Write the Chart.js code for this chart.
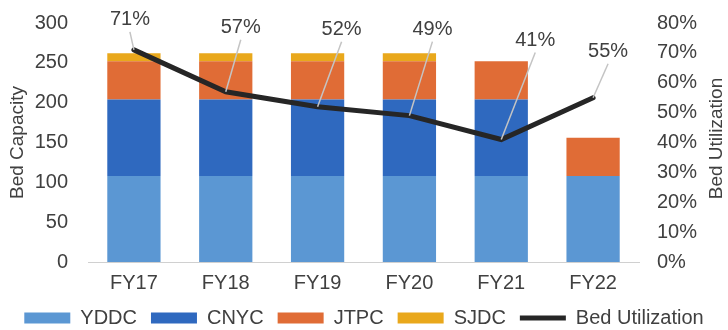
<!DOCTYPE html>
<html>
<head>
<meta charset="utf-8">
<script src="https://cdn.jsdelivr.net/npm/chart.js@4/dist/chart.umd.min.js"></script>
<style>
  body { margin: 0; background: #fff; }
  #wrap { width: 728px; height: 330px; }
</style>
</head>
<body>
<div id="wrap"><canvas id="bedChart" width="728" height="330"></canvas></div>
<script>
// Kategorien und Werte
const years = ["FY17", "FY18", "FY19", "FY20", "FY21", "FY22"];
const yddc = [108, 108, 108, 108, 108, 108];
const cnyc = [96, 96, 96, 96, 96, 0];
const jtpc = [48, 48, 48, 48, 48, 48];
const sjdc = [10, 10, 10, 10, 0, 0];
const utilization = [0.71, 0.57, 0.52, 0.49, 0.41, 0.55];
const utilLabels = ["71%", "57%", "52%", "49%", "41%", "55%"];

const fontFamily = "'Liberation Sans', Arial";
const textColor = "#404040";

// Beschriftungen mit Hinweislinie ueber den Punkten + rechter Achsentitel
const leaderLabels = {
  id: "leaderLabels",
  afterDatasetsDraw(chart, args, opts) {
    const meta = chart.getDatasetMeta(4);
    const ctx = chart.ctx;
    ctx.save();
    meta.data.forEach((pt, i) => {
      const [dx, dy] = opts.offsets[i];
      const lx = pt.x + dx;
      const ly = pt.y + dy;
      ctx.strokeStyle = "#c4c4c4";
      ctx.lineWidth = 1.5;
      ctx.beginPath();
      ctx.moveTo(lx, ly + 12);
      ctx.lineTo(pt.x, pt.y);
      ctx.stroke();
      ctx.fillStyle = textColor;
      ctx.font = "20px " + fontFamily;
      ctx.textAlign = "center";
      ctx.textBaseline = "middle";
      ctx.fillText(utilLabels[i], lx, ly);
    });

    // Titel der rechten Achse, von unten nach oben gelesen
    const area = chart.chartArea;
    ctx.translate(chart.width - 11, (area.top + area.bottom) / 2 - 4);
    ctx.rotate(-Math.PI / 2);
    ctx.font = "19px " + fontFamily;
    ctx.fillText("Bed Utilization", 0, 0);
    ctx.restore();
  },
};

const tickFont = { family: fontFamily, size: 20 };

// feste Breite der y-Achsen, ohne Extra-Rand oben/unten
function fixAxis(width) {
  return (scale) => {
    scale.width = width;
    scale.paddingTop = 0;
    scale.paddingBottom = 0;
  };
}

const config = {
  data: {
    labels: years,
    datasets: [
      { label: "YDDC", type: "bar", data: yddc, backgroundColor: "#5b97d3", pointStyle: "rect", yAxisID: "y", order: 2 },
      { label: "CNYC", type: "bar", data: cnyc, backgroundColor: "#2f69bf", pointStyle: "rect", yAxisID: "y", order: 2 },
      { label: "JTPC", type: "bar", data: jtpc, backgroundColor: "#e06c36", pointStyle: "rect", yAxisID: "y", order: 2 },
      { label: "SJDC", type: "bar", data: sjdc, backgroundColor: "#e9a81c", pointStyle: "rect", yAxisID: "y", order: 2 },
      {
        label: "Bed Utilization",
        type: "line",
        data: utilization,
        borderColor: "#262626",
        backgroundColor: "#262626",
        borderWidth: 5,
        borderCapStyle: "round",
        pointStyle: "line",
        pointRadius: 0,
        tension: 0,
        yAxisID: "y1",
        order: 1,
      },
    ],
  },
  options: {
    responsive: false,
    animation: { duration: 0 },
    layout: { padding: { top: 23, left: 0, right: 0, bottom: -8 } },
    datasets: { bar: { categoryPercentage: 1, barPercentage: 0.58 } },
    plugins: {
      tooltip: { enabled: false },
      leaderLabels: {
        offsets: [[-4, -30], [15, -64], [24, -77], [23, -86], [34, -99], [15, -46]],
      },
      legend: {
        position: "bottom",
        labels: {
          color: textColor,
          font: { family: fontFamily, size: 20, lineHeight: 1 },
          usePointStyle: true,
          pointStyleWidth: 46,
          boxHeight: 11,
          padding: 14,
          sort: (a, b) => a.datasetIndex - b.datasetIndex,
        },
      },
    },
    scales: {
      x: {
        stacked: true,
        grid: { display: false, drawTicks: false },
        border: { color: "#d0d0d0", width: 1 },
        ticks: { color: textColor, font: { family: fontFamily, size: 20, lineHeight: 1 }, padding: 11 },
        afterFit: (scale) => {
          scale.height = 32;
        },
      },
      y: {
        stacked: true,
        min: 0,
        max: 300,
        position: "left",
        grid: { display: false, drawTicks: false },
        border: { display: false },
        ticks: { stepSize: 50, autoSkip: false, color: textColor, font: tickFont, padding: 20 },
        title: {
          display: true,
          text: "Bed Capacity",
          color: textColor,
          font: { family: fontFamily, size: 19 },
          padding: { top: 6, bottom: 6 },
        },
        afterFit: fixAxis(88),
      },
      y1: {
        min: 0,
        max: 0.8,
        position: "right",
        grid: { display: false, drawTicks: false },
        border: { display: false },
        ticks: {
          stepSize: 0.1,
          autoSkip: false,
          color: textColor,
          font: tickFont,
          padding: 18,
          callback: (v) => Math.round(v * 100) + "%",
        },
        // Platz fuer den selbst gezeichneten Titel
        afterFit: fixAxis(89),
      },
    },
  },
  plugins: [leaderLabels],
};

const ctx = document.getElementById("bedChart").getContext("2d");
const myChart = new Chart(ctx, config);
</script>
</body>
</html>
